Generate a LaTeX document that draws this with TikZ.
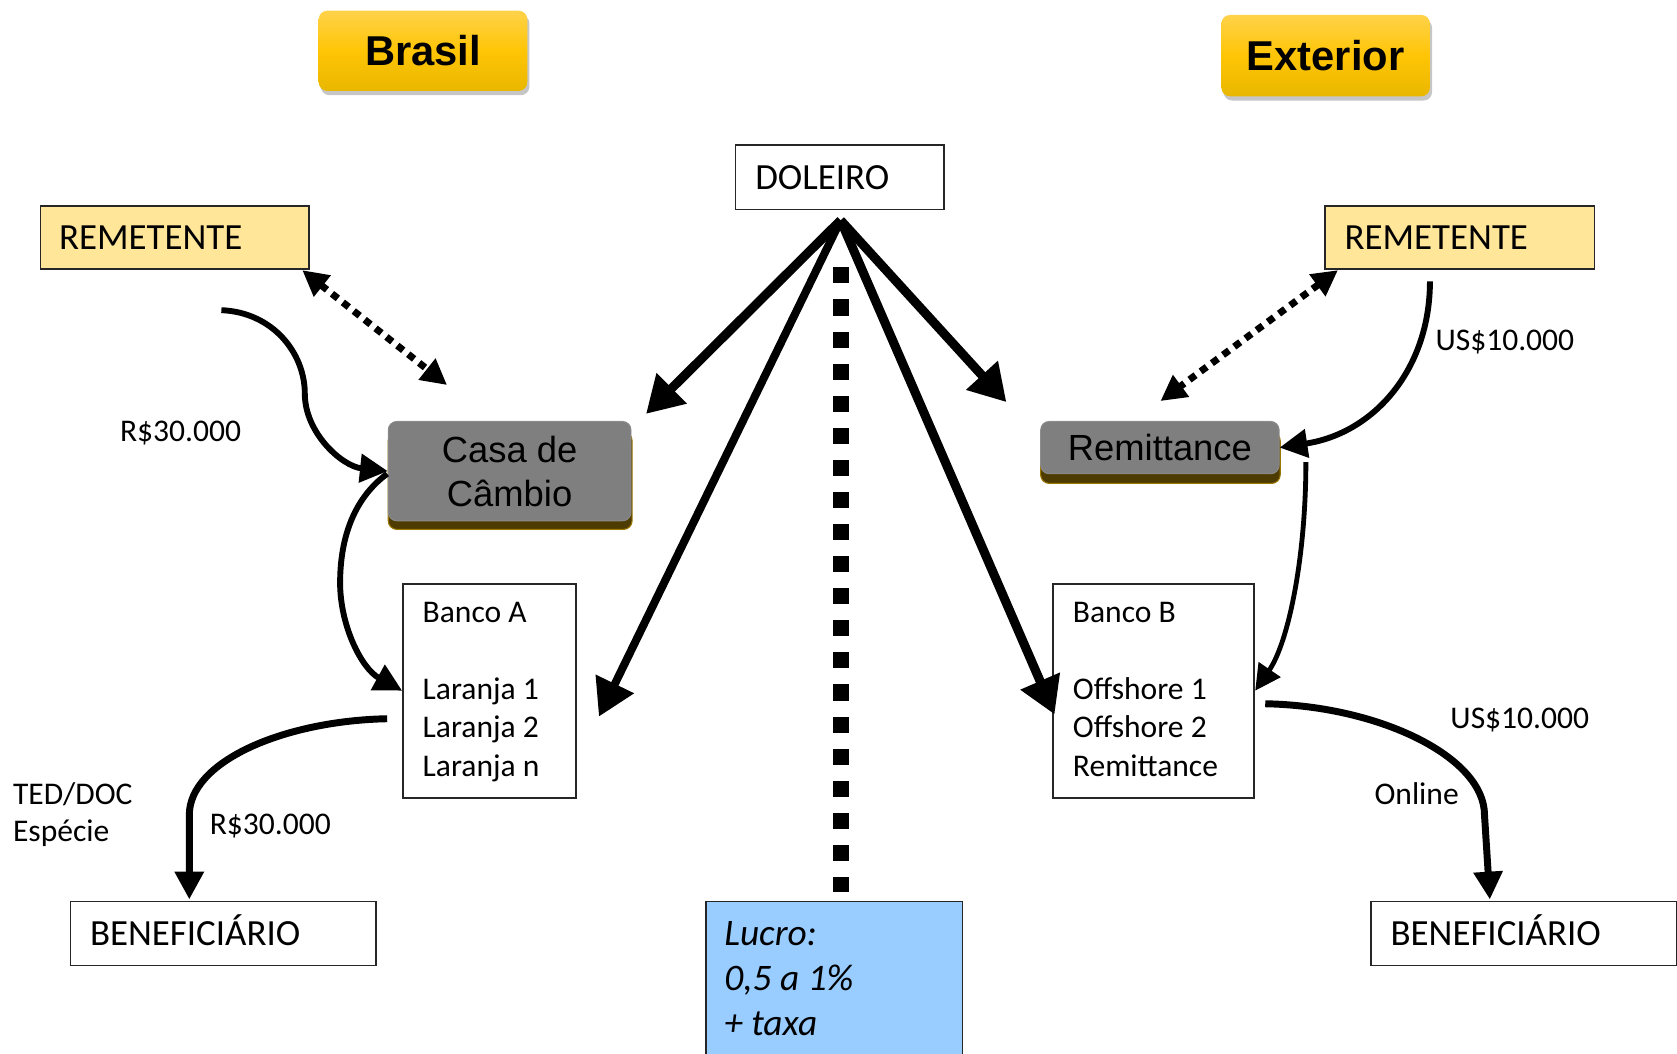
\documentclass[tikz,border=0pt]{standalone}
\usepackage{fontspec}
\setmainfont{Carlito}
\newfontfamily\arialf{Liberation Sans}
\usetikzlibrary{arrows.meta,shadows,calc}
\definecolor{remfill}{HTML}{FFE699}
\definecolor{lucfill}{HTML}{99CCFF}
\definecolor{goldtop}{HTML}{FFD24A}
\definecolor{goldmid}{HTML}{FFC505}
\definecolor{goldbot}{HTML}{E9B700}
\definecolor{grayfill}{HTML}{7F7F7F}
\definecolor{darkgold}{HTML}{4E3B00}
\definecolor{goldrim}{HTML}{9A7800}
\begin{document}
\begin{tikzpicture}[x=1pt,y=-1pt,
  box/.style={draw=black!85, line width=1.6pt, fill=white, anchor=north west, inner sep=0pt},
  remet/.style={box, fill=remfill},
  bigtxt/.style={font=\fontsize{34.5}{41}\selectfont, anchor=base west, inner sep=0pt},
  smalltxt/.style={font=\fontsize{29.5}{36}\selectfont, anchor=base west, inner sep=0pt},
  luctxt/.style={font=\itshape\fontsize{35}{42}\selectfont, anchor=base west, inner sep=0pt},
  titlebox/.style={rounded corners=8pt, top color=goldtop, bottom color=goldbot, middle color=goldmid,
    draw=none, drop shadow={shadow xshift=2pt, shadow yshift=-4pt, opacity=.28, fill=black!80},
    font=\arialf\bfseries\fontsize{39}{45}\selectfont, text=black, inner sep=0pt},
  graybox/.style={rounded corners=8pt, fill=grayfill, draw=black!45, line width=0.8pt,
    font=\arialf\fontsize{34}{41}\selectfont, align=center, inner sep=0pt},
  graybase/.style={rounded corners=8pt, fill=darkgold, draw=goldrim, line width=1pt},
  flow/.style={line width=5.5pt, -{Triangle[length=26pt,width=26pt]}},
  flowthin/.style={line width=4.5pt, -{Triangle[length=24pt,width=24pt]}},
  dotarrow/.style={line width=6.5pt, dash pattern=on 7pt off 6pt,
    {Triangle[length=24pt,width=24pt]}-{Triangle[length=24pt,width=24pt]}},
  bigarrow/.style={line width=8.5pt, -{Triangle[length=34pt,width=38pt]}},
  dashline/.style={line width=15pt, dash pattern=on 15pt off 15pt}
]
\useasboundingbox (0,0) rectangle (1568,985);

% title boxes
\node[titlebox, minimum width=195pt, minimum height=75pt] (brasil) at (395.5,47.5) {Brasil};
\node[titlebox, minimum width=195pt, minimum height=76pt] (exterior) at (1239.5,52) {Exterior};

% white / yellow boxes
\node[box, minimum width=195pt, minimum height=60pt] (doleiro) at (687,135) {};
\node[bigtxt] (doleirot) at (706,177) {DOLEIRO};

\node[remet, minimum width=251pt, minimum height=59pt] (remL) at (37,192) {};
\node[bigtxt] (remLt) at (55,233) {REMETENTE};
\node[remet, minimum width=252pt, minimum height=59pt] (remR) at (1238,192) {};
\node[bigtxt] (remRt) at (1257,233) {REMETENTE};

% gray boxes
\fill[graybase] (363,404) rectangle (591,495);
\node[graybox, minimum width=227pt, minimum height=93pt] (casa) at (476.5,440.5) {Casa de\\Câmbio};
\fill[graybase] (973,404) rectangle (1197,452);
\node[graybox, minimum width=223pt, minimum height=49pt] (remit) at (1084.5,418.5) {Remittance};

% bank boxes
\node[box, minimum width=162pt, minimum height=200pt] (bancoA) at (376,545) {};
\node[smalltxt] (bA1) at (395,582) {Banco A};
\node[smalltxt] (bA2) at (395,654) {Laranja 1};
\node[smalltxt] (bA3) at (395,690) {Laranja 2};
\node[smalltxt] (bA4) at (395,726) {Laranja n};

\node[box, minimum width=188pt, minimum height=200pt] (bancoB) at (984,545) {};
\node[smalltxt] (bB1) at (1003,582) {Banco B};
\node[smalltxt] (bB2) at (1003,654) {Offshore 1};
\node[smalltxt] (bB3) at (1003,690) {Offshore 2};
\node[smalltxt] (bB4) at (1003,726) {Remittance};

% beneficiaries
\node[box, minimum width=286pt, minimum height=60pt] (benL) at (65,842) {};
\node[bigtxt] (benLt) at (84,884) {BENEFICIÁRIO};
\node[box, minimum width=286pt, minimum height=60pt] (benR) at (1281,842) {};
\node[bigtxt] (benRt) at (1300,884) {BENEFICIÁRIO};

% lucro
\node[box, fill=lucfill, minimum width=240pt, minimum height=160pt] (lucro) at (659,842) {};
\node[luctxt] (luc1) at (677,884) {Lucro:};
\node[luctxt] (luc2) at (677,926) {0,5 a 1\%};
\node[luctxt] (luc3) at (677,968) {+ taxa};

% labels
\node[smalltxt] (l1) at (112,413) {R\$30.000};
\node[smalltxt] (l2) at (12,752) {TED/DOC};
\node[smalltxt] (l3) at (12,787) {Espécie};
\node[smalltxt] (l4) at (196,780) {R\$30.000};
\node[smalltxt] (l5) at (1342,328) {US\$10.000};
\node[smalltxt] (l6) at (1356,681) {US\$10.000};
\node[smalltxt] (l7) at (1285,752) {Online};

% coordinates
\coordinate (apex) at (786,206);
\coordinate (dashTop) at (786,250);
\coordinate (dashBot) at (786,834);
\coordinate (tipCasa) at (604,387);
\coordinate (tipBancoA) at (560,670);
\coordinate (tipRemit) at (941,376);
\coordinate (tipBancoB) at (986,668);
\coordinate (startL) at (207,290);
\coordinate (startA) at (362,443);
\coordinate (startBenL) at (362,672);
\coordinate (tipBenL) at (177,841);
\coordinate (startR) at (1337,263);
\coordinate (startRB) at (1221,432);
\coordinate (startBenR) at (1183,658);
\coordinate (tipBenR) at (1393,841);
\coordinate (dotL1) at ($(remL.south east)+(-7,0)$);
\coordinate (dotL2) at (418,360);
\coordinate (dotR1) at ($(remR.south west)+(13,0)$);
\coordinate (dotR2) at (1085,375);

% dashed center line
\draw[dashline] (dashTop) -- (dashBot);

% doleiro arrows
\draw[bigarrow] (apex) -- (tipCasa);
\draw[bigarrow, line width=7.5pt] (apex) -- (tipBancoA);
\draw[bigarrow] (apex) -- (tipRemit);
\draw[bigarrow] (apex) -- (tipBancoB);

% dotted arrows
\draw[dotarrow] (dotL1) -- (dotL2);
\draw[dotarrow] (dotR1) -- (dotR2);

% left flows
\draw[flow] (startL) .. controls (255,292) and (285,330) .. (285,368)
  .. controls (285,405) and (320,436) .. (casa.west);
\draw[flow] (startA) .. controls (328,468) and (318,508) .. (318,545)
  .. controls (318,585) and (338,625) .. (bancoA.west);
\draw[flow, line width=6.5pt] (startBenL) .. controls (265,674) and (177,712) .. (177,762) -- (tipBenL);

% right flows
\draw[flow] (startR) .. controls (1337,345) and (1285,405) .. (remit.east);
\draw[flowthin] (startRB) .. controls (1221,520) and (1205,600) .. (bancoB.east);
\draw[flow, line width=6.5pt] (startBenR) .. controls (1290,660) and (1388,708) .. (1388,762) -- (tipBenR);
\end{tikzpicture}
\end{document}
